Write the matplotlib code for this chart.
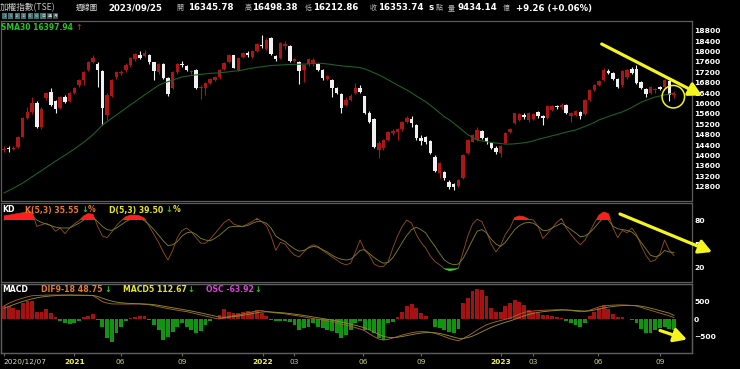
import matplotlib
matplotlib.use('Agg')
import matplotlib.pyplot as plt
from matplotlib.patches import Rectangle, Ellipse, FancyArrowPatch

W, H = 740, 369

# 週線 2020/12/07 - 2023/09/25 (農曆年休市週不列)
open_ = [14230, 14260, 14250, 14330, 14710, 15440, 15670, 16010, 15100, 16200,
         16430, 16100, 15840, 16250, 16100, 16400, 16700, 16900, 17300, 17600,
         17500, 17250, 15560, 16300, 17000, 17180, 17300, 17480, 17700, 17850,
         17830, 17870, 17580, 17230, 17520, 16980, 16590, 17200, 17500, 17440,
         17230, 17290, 16600, 16600, 16790, 16900, 17000, 17330, 17600, 17850,
         17300, 17780, 17950, 17800, 18000, 18250, 18100, 18520, 17830, 17750,
         18200, 18200, 17650, 17600, 17280, 17500, 17520, 17520, 17290, 16960,
         16900, 16600, 16370, 15960, 16150, 16400, 16600, 16270, 15630, 15400,
         14210, 14280, 14600, 14850, 14900, 15000, 15300, 15400, 15170, 14670,
         14700, 14560, 13940, 13320, 13360, 12980, 12900, 12830, 13140, 14100,
         14530, 14600, 14940, 14670, 14480, 14290, 14100, 14480, 14920, 15260,
         15360, 15550, 15360, 15400, 15670, 15520, 15440, 15750, 15880, 15850,
         15940, 15520, 15560, 15670, 15600, 16130, 16520, 16710, 16900, 17250,
         17180, 16950, 16700, 17030, 17315, 17315, 16820, 16560, 16400, 16500,
         16630, 16640, 16870, 16345.78]
high = [14350, 14360, 14380, 14750, 15480, 15850, 16250, 16080, 15850, 16450,
        16610, 16150, 16300, 16320, 16450, 16650, 16950, 17250, 17650, 17850,
        17600, 17300, 16400, 16950, 17250, 17300, 17550, 17800, 17950, 18030,
        18050, 17900, 17600, 17550, 17550, 17000, 17250, 17550, 17630, 17470,
        17300, 17330, 16700, 16820, 16980, 17050, 17330, 17600, 17900, 17870,
        17780, 17990, 18000, 18050, 18320, 18630, 18500, 18550, 17860, 18350,
        18400, 18250, 17750, 17650, 17520, 17750, 17750, 17560, 17320, 17100,
        16950, 16650, 16400, 16250, 16350, 16790, 16720, 16300, 15700, 15450,
        14550, 14650, 14950, 15000, 15050, 15320, 15500, 15500, 15200, 14800,
        14750, 14600, 14000, 13750, 13400, 13050, 12950, 13100, 14050, 14650,
        14830, 15100, 14990, 14700, 14520, 14350, 14420, 14900, 15050, 15650,
        15620, 15650, 15660, 15650, 15700, 15550, 15950, 15950, 15950, 16000,
        15980, 15680, 15740, 15700, 16160, 16560, 16740, 16900, 17350, 17320,
        17200, 16980, 17290, 17330, 17400, 17480, 16850, 16600, 16660, 16600,
        16680, 16950, 16890, 16498.38]
low = [14130, 14150, 14200, 14300, 14700, 15400, 15600, 15050, 15000, 16150,
       15900, 15630, 15800, 16000, 16050, 16350, 16650, 16700, 17250, 17550,
       16650, 15160, 15360, 16250, 16950, 17100, 17200, 17400, 17650, 17700,
       17800, 17500, 16900, 17150, 16950, 16300, 16550, 17150, 17400, 17250,
       17150, 16550, 16170, 16330, 16750, 16850, 16950, 17300, 17560, 17350,
       17250, 17750, 17800, 17750, 17980, 18150, 18050, 17850, 17650, 17700,
       18100, 17600, 17600, 16750, 16840, 17450, 17450, 17250, 16900, 16900,
       16260, 16350, 15630, 15900, 16100, 16350, 16400, 15600, 15250, 14300,
       13900, 14200, 14550, 14800, 14600, 14950, 15250, 15110, 14600, 14400,
       14450, 14050, 13350, 13150, 13050, 12700, 12670, 12780, 13100, 14050,
       14500, 14550, 14620, 14450, 14250, 14050, 13950, 14450, 14880, 15200,
       15320, 15400, 15300, 15350, 15450, 15170, 15400, 15700, 15800, 15800,
       15580, 15300, 15500, 15400, 15550, 16100, 16480, 16680, 16850, 17150,
       16900, 16580, 16650, 16950, 17150, 16750, 16550, 16250, 16350, 16420,
       16500, 16600, 16100, 16212.86]
close = [14260, 14250, 14300, 14710, 15440, 15670, 16010, 15100, 15800, 16400,
         15940, 15800, 16250, 16050, 16400, 16600, 16900, 17200, 17600, 17750,
         17300, 15830, 16330, 16900, 17200, 17220, 17480, 17750, 17900, 17750,
         17950, 17580, 17250, 17520, 16980, 16360, 17200, 17500, 17480, 17290,
         17260, 16600, 16640, 16790, 16940, 17000, 17290, 17570, 17850, 17380,
         17750, 17950, 17850, 18000, 18290, 18200, 18450, 17900, 17700, 18330,
         18300, 17630, 17700, 17250, 17480, 17700, 17680, 17290, 16980, 17040,
         16600, 16400, 15820, 16150, 16300, 16600, 16450, 15630, 15300, 14330,
         14480, 14600, 14900, 14960, 15000, 15290, 15440, 15250, 14670, 14560,
         14520, 14100, 13400, 13710, 13130, 12800, 12800, 13060, 14020, 14600,
         14790, 14990, 14670, 14520, 14290, 14130, 14380, 14860, 15000, 15630,
         15590, 15480, 15630, 15600, 15520, 15440, 15900, 15900, 15850, 15950,
         15630, 15630, 15700, 15520, 16130, 16520, 16700, 16870, 17300, 17180,
         16950, 16640, 17250, 17290, 17160, 16790, 16600, 16360, 16630, 16550,
         16560, 16900, 16330, 16353.74]
sma30 = [12560, 12650, 12740, 12840, 12940, 13060, 13185, 13300, 13420, 13540,
         13660, 13780, 13900, 14010, 14130, 14250, 14380, 14510, 14650, 14800,
         14980, 15170, 15300, 15430, 15560, 15690, 15820, 15950, 16070, 16200,
         16330, 16450, 16580, 16700, 16780, 16840, 16900, 16960, 17020, 17050,
         17080, 17100, 17120, 17140, 17160, 17170, 17180, 17200, 17220, 17240,
         17260, 17290, 17330, 17360, 17390, 17410, 17440, 17460, 17470, 17480,
         17490, 17500, 17505, 17510, 17515, 17525, 17540, 17550, 17540, 17520,
         17500, 17470, 17450, 17430, 17420, 17400, 17380, 17330, 17260, 17180,
         17100, 17010, 16910, 16810, 16710, 16610, 16520, 16410, 16290, 16180,
         16070, 15930, 15790, 15640, 15490, 15380, 15240, 15100, 14950, 14800,
         14700, 14600, 14560, 14530, 14500, 14480, 14460, 14440, 14440, 14450,
         14470, 14490, 14520, 14560, 14620, 14670, 14710, 14760, 14800, 14850,
         14900, 14940, 14980, 15050, 15120, 15190, 15270, 15370, 15430, 15500,
         15560, 15620, 15680, 15760, 15850, 15950, 16050, 16120, 16190, 16250,
         16290, 16330, 16365, 16397.94]

k_val = [85, 86, 87, 88, 89, 90, 90, 72, 74, 76,
         73, 66, 70, 63, 70, 75, 79, 85, 88, 87,
         72, 60, 58, 65, 73, 79, 84, 86, 86, 85,
         82, 72, 62, 52, 40, 30, 42, 58, 67, 70,
         65, 58, 51, 51, 56, 63, 70, 77, 81, 75,
         73, 72, 75, 78, 82, 78, 73, 60, 42, 52,
         50, 42, 36, 34, 40, 46, 49, 47, 42, 38,
         34, 30, 26, 24, 26, 40, 55, 42, 36, 25,
         22, 22, 28, 45, 60, 72, 80, 76, 62, 52,
         45, 35, 28, 24, 19, 17, 18, 20, 40, 60,
         75, 81, 78, 65, 50, 40, 48, 62, 70, 83,
         85, 84, 81, 80, 72, 57, 63, 70, 77, 82,
         70, 62, 55, 49, 55, 65, 76, 86, 90, 88,
         70, 58, 67, 64, 70, 62, 48, 36, 28, 30,
         38, 55, 42, 35.55]
d_val = [80, 82, 83, 84, 85, 86, 85, 80, 77, 75,
         73, 71, 70, 70, 70, 73, 76, 80, 82, 83,
         78, 72, 68, 67, 70, 74, 78, 81, 83, 82,
         79, 74, 68, 61, 54, 48, 49, 53, 60, 64,
         65, 62, 57, 55, 54, 57, 61, 66, 71, 72,
         72, 72, 73, 76, 78, 78, 76, 70, 60, 56,
         53, 48, 44, 41, 42, 45, 47, 46, 43, 40,
         36, 33, 31, 30, 31, 36, 42, 43, 38, 33,
         29, 26, 27, 33, 42, 52, 61, 68, 71, 68,
         64, 55, 47, 38, 30, 26, 24, 25, 32, 43,
         55, 66, 68, 64, 56, 50, 47, 52, 60, 68,
         73, 76, 77, 76, 72, 67, 67, 70, 73, 76,
         72, 68, 64, 59, 60, 64, 70, 77, 83, 80,
         72, 69, 68, 67, 65, 60, 52, 44, 36, 34,
         36, 42, 40, 39.5]

dif = [385, 460, 520, 570, 610, 650, 680, 690, 695, 700,
       702, 702, 700, 700, 700, 698, 695, 692, 690, 685,
       600, 510, 470, 445, 443, 440, 440, 442, 443, 443,
       430, 420, 395, 365, 335, 310, 285, 262, 240, 222,
       190, 160, 125, 95, 60, 30, 10, 40, 75, 105,
       125, 155, 185, 215, 245, 250, 225, 205, 185, 172,
       160, 135, 115, 95, 70, 45, 20, 0, -20, -45,
       -65, -100, -140, -175, -200, -240, -280, -330, -420, -500,
       -570, -600, -580, -540, -500, -455, -420, -390, -365, -358,
       -360, -375, -405, -450, -500, -550, -590, -620, -560, -480,
       -400, -310, -230, -160, -110, -70, -35, 0, 30, 90,
       150, 200, 225, 240, 250, 260, 265, 272, 278, 280,
       270, 255, 235, 220, 225, 260, 310, 360, 385, 400,
       410, 415, 415, 410, 400, 385, 345, 300, 260, 220,
       180, 140, 100, 48.75]
macd5 = [320, 370, 420, 470, 515, 555, 590, 620, 645, 660,
         675, 685, 692, 696, 698, 698, 697, 695, 693, 690,
         660, 610, 565, 525, 498, 478, 465, 457, 452, 449,
         443, 435, 422, 403, 380, 357, 333, 309, 286, 265,
         240, 213, 184, 154, 123, 92, 65, 57, 63, 77,
         93, 114, 138, 164, 191, 211, 216, 212, 203, 193,
         182, 166, 149, 131, 111, 89, 66, 44, 23, 0,
         -22, -48, -79, -111, -141, -174, -209, -249, -306, -371,
         -437, -491, -521, -527, -518, -497, -471, -444, -418, -398,
         -385, -382, -390, -410, -440, -477, -515, -550, -553, -529,
         -486, -427, -361, -294, -233, -179, -131, -87, -48, -2,
         49, 99, 141, 174, 199, 219, 234, 247, 257, 265,
         267, 263, 254, 243, 237, 245, 267, 298, 327, 351,
         371, 386, 396, 401, 401, 396, 379, 353, 322, 288,
         252, 215, 177, 112.67]
osc = [79, 79, 65, 56, 95, 111, 111, 44, 44, 60,
       36, 12, -10, -24, -30, -20, -8, 12, 20, 32,
       -4, -44, -113, -133, -83, -44, -10, 8, 12, 20,
       20, -4, -34, -64, -123, -103, -74, -44, -24, -44,
       -64, -79, -70, -34, -8, 4, 26, 60, 46, 36,
       40, 46, 52, 46, 56, 36, 20, -4, -8, -8,
       -8, -14, -34, -64, -54, -44, -24, -44, -50, -64,
       -70, -83, -113, -93, -64, -24, -10, -64, -64, -83,
       -113, -123, -24, -14, 12, 46, 80, 91, 66, 40,
       22, 4, -44, -54, -64, -74, -83, -60, 95, 125,
       170, 182, 175, 140, 70, 46, 46, 80, 99, 113,
       105, 85, 56, 46, 36, 26, 26, 20, 16, 10,
       -8, -24, -34, -44, -24, 20, 46, 70, 85, 60,
       30, 12, 12, 2, -6, -24, -55, -79, -83, -65,
       -50, -46, -58, -63.92]

# x軸 (週序號) 標籤
x_tick_pos = [0, 15.0, 24.9, 38.0, 55.2, 61.9, 76.6, 89.0, 106.0, 112.9, 126.8, 140.0]
x_tick_lab = ['2020/12/07', '2021', '06', '09', '2022', '03', '06', '09', '2023', '03', '06', '09']
price_ticks = [12800, 13200, 13600, 14000, 14400, 14800, 15200, 15600, 16000,
               16400, 16800, 17200, 17600, 18000, 18400, 18800]
kd_ticks = [20, 50, 80]
macd_ticks = [-500, 0, 500]

n = len(close)
idx = list(range(n))

fig = plt.figure(figsize=(W / 100, H / 100), dpi=100, facecolor='black')


def px_axes(l, t, r, b):
    return fig.add_axes([l / W, 1 - b / H, (r - l) / W, (b - t) / H])


def fx(px):
    return px / W


def fy(py):
    return 1 - py / H


def style(ax):
    ax.set_facecolor('black')
    for s in ax.spines.values():
        s.set_color('#5c5c5c')
        s.set_linewidth(0.9)
    ax.set_xlim(-0.64, 146.85)
    ax.yaxis.tick_right()
    ax.tick_params(axis='y', length=0, pad=1.5, labelsize=5.4, labelcolor='white')


ax1 = px_axes(1, 21, 692, 201)
ax2 = px_axes(1, 203, 692, 282)
ax3 = px_axes(1, 284, 692, 353)
ax3b = ax3.twinx()
ax3b.set_zorder(ax3.get_zorder() + 1)
ax3b.patch.set_visible(False)

# ---- K線 ----
RED = '#ac1616'
for i in idx:
    up = close[i] >= open_[i]
    c = RED if up else '#f0f0f0'
    ax1.vlines(i, low[i], high[i], color=c, lw=0.8, zorder=2)
    h = max(abs(close[i] - open_[i]), 35)
    ax1.bar(i, h, bottom=min(open_[i], close[i]), width=0.74, color=c, lw=0, zorder=3)
ax1.plot(idx, sma30, color='#1d5f28', lw=0.8, zorder=4)
ax1.set_ylim(12250, 19173)
ax1.set_yticks(price_ticks)
ax1.set_xticks([])
style(ax1)
for lab in ax1.get_yticklabels():
    lab.set_fontweight('bold')

# ---- KD ----
ax2.fill_between(idx, 80, k_val, where=[v > 80 for v in k_val], interpolate=True,
                 color='#ff1e1e', lw=0, zorder=3)
ax2.fill_between(idx, 20, k_val, where=[v < 20 for v in k_val], interpolate=True,
                 color='#22e022', lw=0, zorder=3)
ax2.plot(idx, k_val, color='#8e4a22', lw=0.65, zorder=2)
ax2.plot(idx, d_val, color='#7c7c26', lw=0.65, zorder=2)
ax2.set_ylim(2.5, 101.25)
ax2.set_yticks(kd_ticks)
ax2.set_xticks([])
style(ax2)
for lab in ax2.get_yticklabels():
    lab.set_fontweight('bold')

# ---- MACD ----
ax3.bar(idx, osc, width=0.82, color=['#a31313' if v >= 0 else '#129412' for v in osc], lw=0)
ax3.set_ylim(-200.8, 210.3)
style(ax3)
ax3.set_yticks([])
ax3.set_xticks(x_tick_pos)
ax3.set_xticklabels([''] * len(x_tick_pos))
ax3.tick_params(axis='x', length=2.5, color='#6a6a6a', width=0.8)
ax3b.plot(idx, dif, color='#a86228', lw=0.65)
ax3b.plot(idx, macd5, color='#8c8c2c', lw=0.65)
ax3b.set_ylim(-974, 1020)
style(ax3b)
ax3b.set_yticks(macd_ticks)
for lab in ax3b.get_yticklabels():
    lab.set_fontweight('bold')

for p, t in zip(x_tick_pos, x_tick_lab):
    if '/' in t:
        ax3.text(p - 0.2, -0.13, t, transform=ax3.get_xaxis_transform(), ha='left', va='center',
                 fontsize=5.3, color='#dcdcb4')
    elif len(t) == 4:
        ax3.text(p, -0.13, t, transform=ax3.get_xaxis_transform(), ha='center', va='center',
                 fontsize=5.4, color='#f4f43c', fontweight='bold')
    else:
        ax3.text(p, -0.13, t, transform=ax3.get_xaxis_transform(), ha='center', va='center',
                 fontsize=5.3, color='#d2d27a')

# ---- 標題列 ----
CJK = ['Noto Sans CJK TC', 'DejaVu Sans']


def txt(x, y, s, color='white', size=6.2, bold=False, fam=None):
    fig.text(fx(x), fy(y), s, color=color, fontsize=size, ha='left', va='center',
             fontweight='bold' if bold else 'normal', family=fam if fam else 'DejaVu Sans')


txt(0, 8, '加權指數(TSE)', '#c8c8c8', 6.2, fam=CJK)
txt(76, 8, '週線圖', '#e0e0e0', 5.3, fam=CJK)
txt(108, 8, '2023/09/25', 'white', 6.2, True)
txt(176, 8, '開', '#bdbdbd', 5.0, fam=CJK)
txt(188, 8, '16345.78', 'white', 6.2, True)
txt(244.5, 8, '高', '#bdbdbd', 5.0, fam=CJK)
txt(252.5, 8, '16498.38', 'white', 6.2, True)
txt(305, 8, '低', '#bdbdbd', 5.0, fam=CJK)
txt(313, 8, '16212.86', 'white', 6.2, True)
txt(369.5, 8, '收', '#bdbdbd', 5.0, fam=CJK)
txt(378, 8, '16353.74', 'white', 6.2, True)
txt(428.5, 8, 's', 'white', 6.2, True)
txt(435.5, 8, '點', '#bdbdbd', 5.0, fam=CJK)
txt(448, 8, '量', '#bdbdbd', 5.0, fam=CJK)
txt(457, 8, '9434.14', 'white', 6.2, True)
txt(503, 8, '億', '#bdbdbd', 5.0, fam=CJK)
txt(516, 8, '+9.26 (+0.06%)', 'white', 6.2, True)

btns = ['1', '5', '10', '15', '30', '60', '日', '週', '月']
for j, b in enumerate(btns):
    x0 = 1.7 + j * 6.45
    fig.add_artist(Rectangle((fx(x0), fy(18.6)), 5.2 / W, 5.6 / H, transform=fig.transFigure,
                             facecolor='#3f6f70' if j < 7 else '#4a4a4a', edgecolor='none'))
    fig.text(fx(x0 + 2.6), fy(15.8), b, color='#b8e0e0', fontsize=2.8, ha='center', va='center',
             family=CJK)

# 指標標題
txt(1, 27, 'SMA30 16397.94', '#23c423', 5.5, True)
txt(75.5, 27, '↑', '#e01818', 5.8, True)
txt(2, 210, 'KD', 'white', 5.6, True)
txt(25, 210, 'K(5,3) 35.55', '#e67a30', 5.6, True)
txt(81.5, 210, '↓', '#22d022', 5.8, True)
txt(88, 210, '%', '#e67a30', 5.6, True)
txt(109, 210, 'D(5,3) 39.50', '#e6e628', 5.6, True)
txt(165.5, 210, '↓', '#22d022', 5.8, True)
txt(172.5, 210, '%', '#e6e628', 5.6, True)
txt(2, 290, 'MACD', 'white', 5.6, True)
txt(41, 290, 'DIF9-18 48.75', '#e67a30', 5.6, True)
txt(104.5, 290, '↓', '#22d022', 5.8, True)
txt(123, 290, 'MACD5 112.67', '#e6e628', 5.6, True)
txt(187.5, 290, '↓', '#22d022', 5.8, True)
txt(206, 290, 'OSC -63.92', '#e03ce0', 5.6, True)
txt(254.5, 290, '↓', '#22d022', 5.8, True)

# 黃色標註
YEL = '#f5f51e'
for (x0, y0), (x1, y1) in [((601.7, 44), (702, 95.5)), ((620, 214), (712, 252)),
                           ((660, 330.5), (687, 339.5))]:
    fig.add_artist(FancyArrowPatch((fx(x0), fy(y0)), (fx(x1), fy(y1)), transform=fig.transFigure,
                                   arrowstyle='-|>,head_length=0.55,head_width=0.3',
                                   mutation_scale=14, color=YEL, lw=2.3, shrinkA=0, shrinkB=0))
fig.add_artist(Ellipse((fx(673.3), fy(96.7)), 22.5 / W, 22.5 / H, transform=fig.transFigure,
                       fill=False, edgecolor=YEL, lw=1.1))

fig.savefig('out.png', dpi=100, facecolor='black')
